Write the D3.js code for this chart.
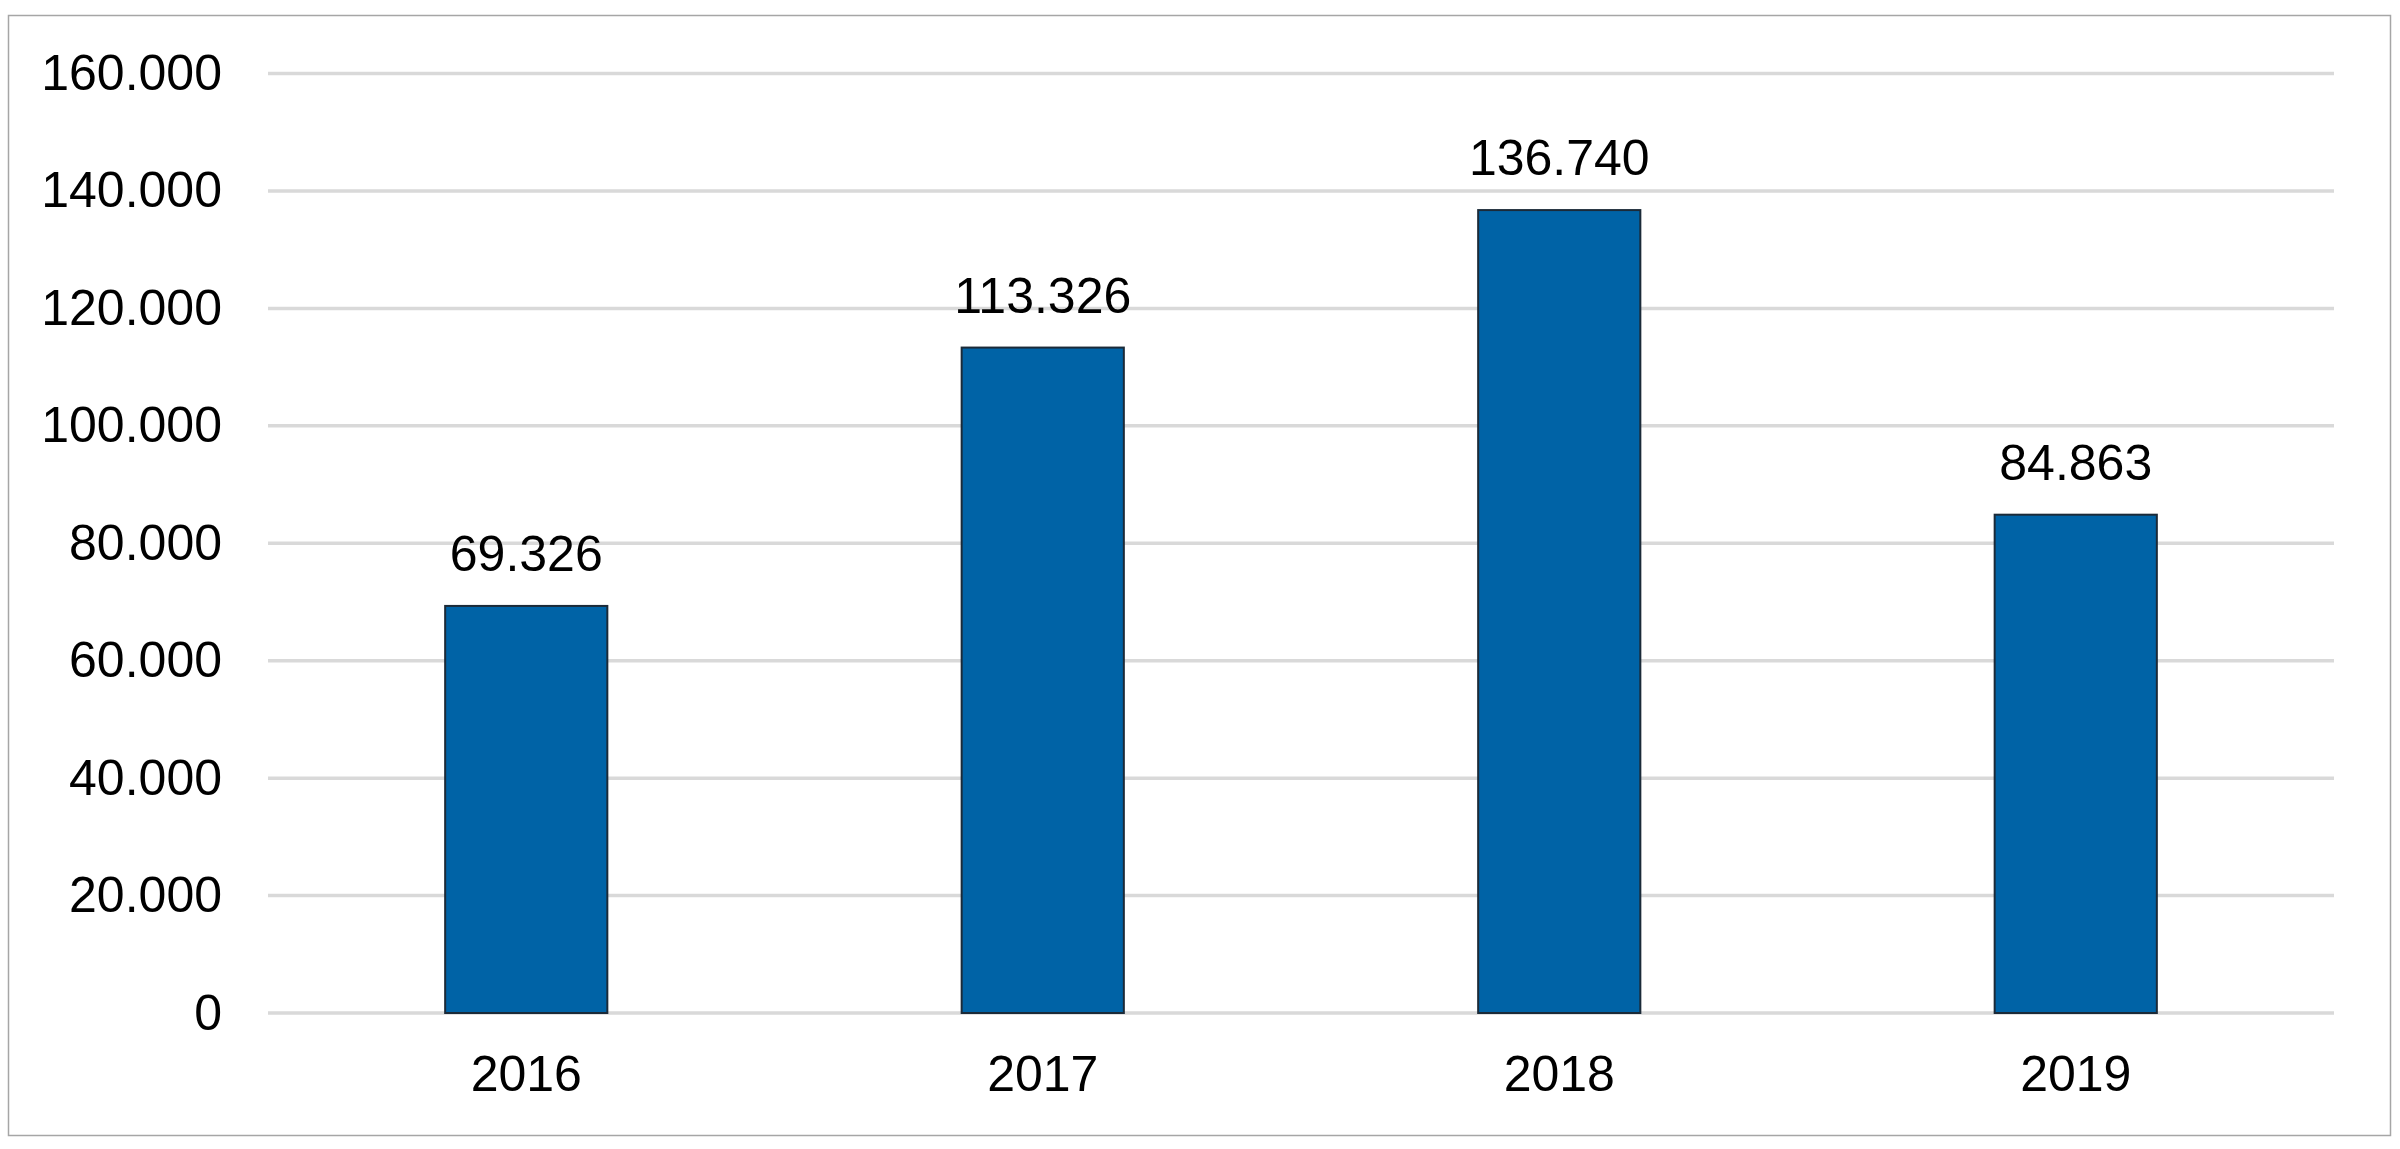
<!DOCTYPE html>
<html>
<head>
<meta charset="utf-8">
<script src="https://cdn.jsdelivr.net/npm/d3@7"></script>
<style>
  html, body { margin: 0; padding: 0; background: #ffffff; }
  svg { display: block; font-family: "Liberation Sans", Arial, sans-serif; }
</style>
</head>
<body>
<svg id="chart" width="2400" height="1149"></svg>
<script>
const categories = ["2016", "2017", "2018", "2019"];
const values = [69326, 113326, 136740, 84863];
const yTicks = [0, 20000, 40000, 60000, 80000, 100000, 120000, 140000, 160000];

const svg = d3.select("#chart");
const W = 2400, H = 1149;
const plot = { left: 268, right: 2334, top: 73.5, bottom: 1013 };

const locale = d3.formatLocale({ decimal: ",", thousands: ".", grouping: [3], currency: ["", ""] });
const fmt = locale.format(",d");

// outer border
svg.append("rect")
  .attr("x", 8.5).attr("y", 15.5)
  .attr("width", 2382).attr("height", 1120)
  .attr("fill", "#ffffff")
  .attr("stroke", "#a6a6a6")
  .attr("stroke-width", 1.5);

const x = d3.scaleBand()
  .domain(categories)
  .range([plot.left, plot.right])
  .paddingInner(0.686)
  .paddingOuter(0.343);

const y = d3.scaleLinear()
  .domain([0, 160000])
  .range([plot.bottom, plot.top]);

// gridlines
svg.append("g")
  .selectAll("line")
  .data(yTicks)
  .join("line")
  .attr("x1", plot.left).attr("x2", plot.right)
  .attr("y1", d => y(d)).attr("y2", d => y(d))
  .attr("stroke", "#d9d9d9")
  .attr("stroke-width", 3.5);

// y axis labels
const yAxis = d3.axisLeft(y).tickValues(yTicks).tickFormat(fmt).tickSize(0).tickPadding(46);
const gy = svg.append("g").attr("transform", `translate(${plot.left},0)`).call(yAxis);
gy.select(".domain").remove();
gy.selectAll("text")
  .attr("font-size", 50)
  .attr("fill", "#000000")
  .attr("font-family", "Liberation Sans, Arial, sans-serif");

// x axis labels
const xAxis = d3.axisBottom(x).tickSize(0).tickPadding(42);
const gx = svg.append("g").attr("transform", `translate(0,${plot.bottom})`).call(xAxis);
gx.select(".domain").remove();
gx.selectAll("text")
  .attr("font-size", 50)
  .attr("fill", "#000000")
  .attr("font-family", "Liberation Sans, Arial, sans-serif");

// bars
svg.append("g")
  .selectAll("rect")
  .data(values)
  .join("rect")
  .attr("x", (d, i) => x(categories[i]))
  .attr("y", d => y(d))
  .attr("width", x.bandwidth())
  .attr("height", d => y(0) - y(d))
  .attr("fill", "#0063a6")
  .attr("stroke", "#1b2a38")
  .attr("stroke-width", 2);

// value labels
svg.append("g")
  .selectAll("text")
  .data(values)
  .join("text")
  .attr("x", (d, i) => x(categories[i]) + x.bandwidth() / 2)
  .attr("y", d => y(d) - 35)
  .attr("text-anchor", "middle")
  .attr("font-size", 50)
  .attr("fill", "#000000")
  .text(d => fmt(d));
</script>
</body>
</html>
